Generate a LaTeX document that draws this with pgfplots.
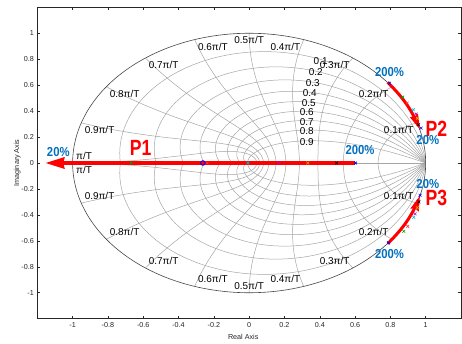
\documentclass[border=0pt]{standalone}
\usepackage{fontspec}
\setmainfont{Liberation Sans}
\usepackage{graphicx}
\usepackage{pgfplots}
\pgfplotsset{compat=1.18}
\usetikzlibrary{arrows.meta}
\definecolor{lblblue}{RGB}{0,112,192}
\definecolor{axgray}{RGB}{38,38,38}
\definecolor{gridgray}{RGB}{165,165,165}
\definecolor{circgray}{RGB}{70,70,70}
\definecolor{mcyan}{RGB}{0,191,191}
\definecolor{mmag}{RGB}{191,0,191}
\definecolor{myel}{RGB}{225,170,0}
\definecolor{mgreen}{RGB}{0,160,0}
\newcommand{\tickfont}{\fontsize{7.2bp}{8bp}\selectfont}
\newcommand{\gridfont}{\fontsize{6.6bp}{7.5bp}\selectfont}
\newcommand{\pctfont}{\fontsize{13bp}{13bp}\selectfont\bfseries}
\newcommand{\pfont}{\fontsize{22bp}{22bp}\selectfont\bfseries}
\begin{document}
\begin{tikzpicture}
\begin{axis}[
  scale only axis, width=423.7bp, height=311.4bp,
  xmin=-1.2, xmax=1.2, ymin=-1.2, ymax=1.2,
  xtick={-1,-0.8,-0.6,-0.4,-0.2,0,0.2,0.4,0.6,0.8,1},
  ytick={-1,-0.8,-0.6,-0.4,-0.2,0,0.2,0.4,0.6,0.8,1},
  tick align=inside, major tick length=3bp,
  tick style={axgray, line width=0.5bp},
  axis line style={axgray, line width=0.6bp},
  ticklabel style={font=\tickfont, text=axgray},
  /pgf/number format/assume math mode=true,
  xlabel={Real Axis}, ylabel={Imaginary Axis},
  label style={font=\tickfont, text=axgray},
  xlabel style={at={(axis description cs:0.486,-0.058)}, anchor=center},
  ylabel style={at={(axis description cs:-0.047,0.5)}, anchor=center},
  clip=true,
]
% z-plane grid: damping ratio curves
\pgfplotsinvokeforeach{0.10050,0.20412,0.31449,0.43644,0.57735,0.75,0.98020,1.33333,2.06474}{
  \addplot[gridgray, line width=0.5bp, domain=0:pi, samples=60, smooth]
    ({exp(-#1*x)*cos(deg(x))},{exp(-#1*x)*sin(deg(x))});
  \addplot[gridgray, line width=0.5bp, domain=0:pi, samples=60, smooth]
    ({exp(-#1*x)*cos(deg(x))},{-exp(-#1*x)*sin(deg(x))});
}
% natural frequency curves
\pgfplotsinvokeforeach{1,2,3,4,5,6,7,8,9,10}{
  \addplot[gridgray, line width=0.5bp, domain=0:pi/2, samples=40, smooth]
    ({exp(-#1*pi/10*cos(deg(x)))*cos(deg(#1*pi/10*sin(deg(x))))},
     {exp(-#1*pi/10*cos(deg(x)))*sin(deg(#1*pi/10*sin(deg(x))))});
  \addplot[gridgray, line width=0.5bp, domain=0:pi/2, samples=40, smooth]
    ({exp(-#1*pi/10*cos(deg(x)))*cos(deg(#1*pi/10*sin(deg(x))))},
     {-exp(-#1*pi/10*cos(deg(x)))*sin(deg(#1*pi/10*sin(deg(x))))});
}
\addplot[gridgray, line width=0.5bp] coordinates {(-1,0) (1,0)};
% unit circle
\addplot[circgray, line width=0.6bp, domain=0:2*pi, samples=120, smooth]
  ({cos(deg(x))},{sin(deg(x))});

% grid labels
\begingroup
\tikzset{every node/.style={font=\gridfont, text=black!80, inner sep=1bp}}
\node[anchor=north east] at (axis cs:0.9511,0.3090) {0.1π/T};
\node[anchor=north east] at (axis cs:0.8090,0.5878) {0.2π/T};
\node[anchor=north east] at (axis cs:0.5878,0.8090) {0.3π/T};
\node[anchor=north east] at (axis cs:0.3090,0.9511) {0.4π/T};
\node[anchor=north] at (axis cs:0,1) {0.5π/T};
\node[anchor=north west] at (axis cs:-0.3090,0.9511) {0.6π/T};
\node[anchor=north west] at (axis cs:-0.5878,0.8090) {0.7π/T};
\node[anchor=north west] at (axis cs:-0.8090,0.5878) {0.8π/T};
\node[anchor=north west] at (axis cs:-0.9511,0.3090) {0.9π/T};
\node[anchor=north west] at (axis cs:-1,0) {π/T};
\node[anchor=south east] at (axis cs:0.9511,-0.3090) {0.1π/T};
\node[anchor=south east] at (axis cs:0.8090,-0.5878) {0.2π/T};
\node[anchor=south east] at (axis cs:0.5878,-0.8090) {0.3π/T};
\node[anchor=south east] at (axis cs:0.3090,-0.9511) {0.4π/T};
\node[anchor=south] at (axis cs:0,-1) {0.5π/T};
\node[anchor=south west] at (axis cs:-0.3090,-0.9511) {0.6π/T};
\node[anchor=south west] at (axis cs:-0.5878,-0.8090) {0.7π/T};
\node[anchor=south west] at (axis cs:-0.8090,-0.5878) {0.8π/T};
\node[anchor=south west] at (axis cs:-0.9511,-0.3090) {0.9π/T};
\node[anchor=south west] at (axis cs:-1,0) {π/T};
\node at (axis cs:0.405,0.787) {0.1};
\node at (axis cs:0.377,0.702) {0.2};
\node at (axis cs:0.360,0.618) {0.3};
\node at (axis cs:0.343,0.540) {0.4};
\node at (axis cs:0.338,0.463) {0.5};
\node at (axis cs:0.326,0.395) {0.6};
\node at (axis cs:0.326,0.318) {0.7};
\node at (axis cs:0.326,0.248) {0.8};
\node at (axis cs:0.326,0.164) {0.9};
\endgroup

% loci
\addplot[red, line width=3.5bp, -{Stealth[length=19bp,width=11bp,inset=1bp]}]
  coordinates {(0.600,0) (-1.155,0)};
\addplot[red, line width=3bp, smooth, -{Stealth[length=15bp,width=8bp,inset=1bp]}]
  coordinates {(0.785,0.622) (0.829,0.559) (0.866,0.500) (0.899,0.438) (0.927,0.375) (0.951,0.309) (0.968,0.257)};
\addplot[red, line width=3bp, smooth, -{Stealth[length=15bp,width=8bp,inset=1bp]}]
  coordinates {(0.785,-0.622) (0.829,-0.559) (0.866,-0.500) (0.899,-0.438) (0.927,-0.375) (0.951,-0.309) (0.968,-0.250)};

% markers
\addplot[only marks, mark=x, mark size=2bp, blue, line width=0.6bp]
  coordinates {(0.603,0) (0.795,0.615) (0.974,0.269) (0.789,-0.615) (0.968,-0.249)};
\addplot[only marks, mark=o, mark size=2.3bp, blue, line width=0.9bp]
  coordinates {(-0.262,0)};
\addplot[only marks, mark=x, mark size=2bp, mgreen, line width=0.6bp]
  coordinates {(-0.668,0) (0.870,0.508) (0.876,-0.526)};
\addplot[only marks, mark=x, mark size=2bp, red!80!white, line width=0.6bp]
  coordinates {(-0.239,0) (0.895,0.462) (0.898,-0.488)};
\addplot[only marks, mark=x, mark size=2bp, mcyan, line width=0.6bp]
  coordinates {(-0.007,0) (0.930,0.410) (0.932,-0.418)};
\addplot[only marks, mark=x, mark size=2bp, mmag, line width=0.6bp]
  coordinates {(0.168,0) (0.946,0.377) (0.940,-0.392)};
\addplot[only marks, mark=x, mark size=2bp, myel, line width=0.6bp]
  coordinates {(0.332,0) (0.953,0.345) (0.953,-0.344)};
\addplot[only marks, mark=x, mark size=2bp, black, line width=0.6bp]
  coordinates {(0.495,0) (0.959,0.295) (0.962,-0.300)};

% annotations
\node[text=red, font=\pfont] at (axis cs:-0.615,0.118) {\scalebox{0.8}[1]{P1}};
\node[text=red, font=\pfont] at (axis cs:1.060,0.266) {\scalebox{0.8}[1]{P2}};
\node[text=red, font=\pfont] at (axis cs:1.060,-0.271) {\scalebox{0.8}[1]{P3}};
\node[text=lblblue, font=\pctfont] at (axis cs:-1.081,0.087) {\scalebox{0.87}[1]{20\%}};
\node[text=lblblue, font=\pctfont] at (axis cs:0.628,0.098) {\scalebox{0.87}[1]{200\%}};
\node[text=lblblue, font=\pctfont] at (axis cs:0.795,0.702) {\scalebox{0.87}[1]{200\%}};
\node[text=lblblue, font=\pctfont] at (axis cs:1.012,0.175) {\scalebox{0.87}[1]{20\%}};
\node[text=lblblue, font=\pctfont] at (axis cs:1.012,-0.163) {\scalebox{0.87}[1]{20\%}};
\node[text=lblblue, font=\pctfont] at (axis cs:0.795,-0.698) {\scalebox{0.87}[1]{200\%}};
\end{axis}
\pgfresetboundingbox
\path[use as bounding box] ([shift={(-37.3bp,-25.3bp)}]current axis.south west) rectangle ([shift={(1bp,7.3bp)}]current axis.north east);
\end{tikzpicture}
\end{document}
